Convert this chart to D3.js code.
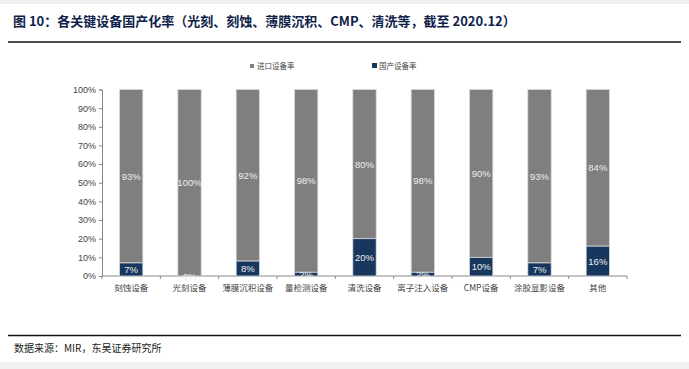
<!DOCTYPE html>
<html><head><meta charset="utf-8">
<script src="https://cdn.jsdelivr.net/npm/d3@7"></script>
<style>html,body{margin:0;padding:0;background:#fff;}svg{display:block;}</style>
</head><body>
<script>
const categories = ["刻蚀设备","光刻设备","薄膜沉积设备","量检测设备","清洗设备","离子注入设备","CMP设备","涂胶显影设备","其他"];
const importRate = [93,100,92,98,80,98,90,93,84];
const domesticRate = [7,0,8,2,20,2,10,7,16];
const seriesNames = ["进口设备率","国产设备率"];
const yTicks = [0,10,20,30,40,50,60,70,80,90,100];
const titleText = "图 10：各关键设备国产化率（光刻、刻蚀、薄膜沉积、CMP、清洗等，截至 2020.12）";
const sourceText = "数据来源：MIR，东吴证券研究所";

const W = 689, H = 369;
const svg = d3.select("body").append("svg").attr("width", W).attr("height", H);
const cjk = "'Noto Sans CJK SC', sans-serif";
const colImp = "#7f7f7f", colDom = "#17375e";

// page shadows
svg.append("rect").attr("x",0).attr("y",0).attr("width",W).attr("height",4).attr("fill","#efefef");
svg.append("rect").attr("x",0).attr("y",362).attr("width",W).attr("height",7).attr("fill","#f0f0f0");

svg.append("text").attr("x",13).attr("y",26).attr("font-family",cjk).attr("font-weight","bold")
  .attr("font-size",13).attr("fill","#0f1f4a").text(titleText);
svg.append("line").attr("x1",8).attr("x2",681).attr("y1",42).attr("y2",42).attr("stroke","#111").attr("stroke-width",1.3);
svg.append("line").attr("x1",8).attr("x2",681).attr("y1",335.5).attr("y2",335.5).attr("stroke","#111").attr("stroke-width",1.3);
svg.append("text").attr("x",14).attr("y",352).attr("font-family",cjk).attr("font-size",10).attr("fill","#222").text(sourceText);

const x = d3.scaleBand().domain(categories).range([102,627]).paddingInner(0.6).paddingOuter(0.3);
const y = d3.scaleLinear().domain([0,100]).range([276,89.5]);

const g = svg.append("g");
// y axis
const yAxis = g.append("g").attr("transform","translate(102,0)")
  .call(d3.axisLeft(y).tickValues(yTicks).tickFormat(d=>d+"%").tickSize(3));
yAxis.select(".domain").attr("stroke","#888");
yAxis.selectAll(".tick line").attr("stroke","#888");
yAxis.selectAll("text").attr("font-family","'Liberation Sans', Arial, sans-serif").attr("font-size",9).attr("fill","#444");

// x axis
const xAxis = g.append("g").attr("transform","translate(0,276)");
xAxis.append("line").attr("x1",102).attr("x2",627).attr("y1",0).attr("y2",0).attr("stroke","#888");
const step = x.step();
const bounds = d3.range(categories.length+1).map(i => 102 + i*step);
xAxis.selectAll("line.t").data(bounds).join("line").attr("class","t")
  .attr("x1",d=>d).attr("x2",d=>d).attr("y1",0).attr("y2",3).attr("stroke","#888");
xAxis.selectAll("text").data(categories).join("text")
  .attr("x",d=>x(d)+x.bandwidth()/2).attr("y",15).attr("text-anchor","middle")
  .attr("font-family",cjk).attr("font-size",8.5).attr("fill","#444").text(d=>d);

// bars
const data = categories.map((c,i)=>({c, imp:importRate[i], dom:domesticRate[i]}));
const bars = g.append("g");
bars.selectAll("rect.imp").data(data).join("rect").attr("class","imp")
  .attr("x",d=>x(d.c)).attr("width",x.bandwidth())
  .attr("y",d=>y(d.dom+d.imp)).attr("height",d=>y(d.dom)-y(d.dom+d.imp))
  .attr("fill",colImp).attr("stroke","#d9d9d9").attr("stroke-width",0.8);
bars.selectAll("rect.dom").data(data).join("rect").attr("class","dom")
  .attr("x",d=>x(d.c)).attr("width",x.bandwidth())
  .attr("y",d=>y(d.dom)).attr("height",d=>y(0)-y(d.dom))
  .attr("fill",colDom).attr("stroke","#d9d9d9").attr("stroke-width",0.8);

const lf = "'Liberation Sans', Arial, sans-serif";
bars.selectAll("text.imp").data(data).join("text").attr("class","imp")
  .attr("x",d=>x(d.c)+x.bandwidth()/2).attr("y",d=>y(d.dom+d.imp/2)+3.5)
  .attr("text-anchor","middle").attr("font-family",lf).attr("font-size",9.5).attr("fill","#eee")
  .text(d=>d.imp+"%");
bars.selectAll("text.dom").data(data).join("text").attr("class","dom")
  .attr("x",d=>x(d.c)+x.bandwidth()/2).attr("y",d=>y(d.dom/2)+3.5)
  .attr("text-anchor","middle").attr("font-family",lf).attr("font-size",9.5).attr("fill","#eee")
  .text(d=>d.dom+"%");

// legend
const leg = svg.append("g");
const legX = [250, 372];
[colImp,colDom].forEach((c,i)=>{
  leg.append("rect").attr("x",legX[i]).attr("y",i?63:64).attr("width",i?5:4).attr("height",i?5:4).attr("fill",c);
  leg.append("text").attr("x",legX[i]+7).attr("y",69).attr("font-family",cjk).attr("font-size",7.5).attr("fill","#444").text(seriesNames[i]);
});
</script>
</body></html>
